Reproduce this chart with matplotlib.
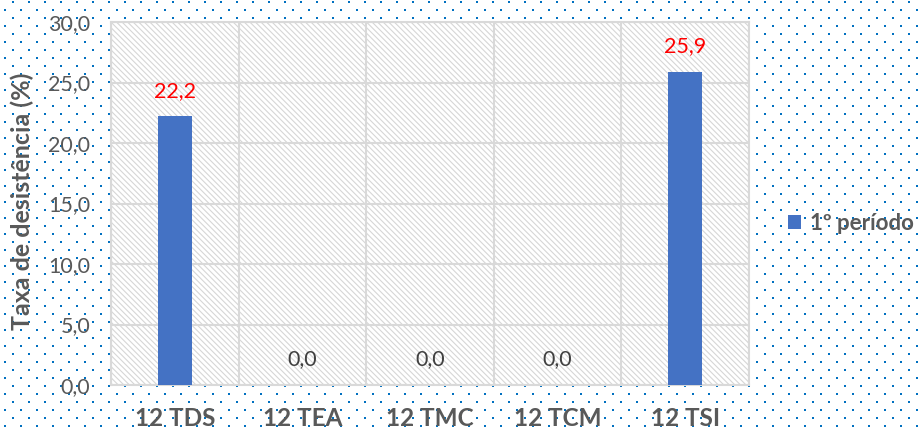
import matplotlib
matplotlib.use('Agg')
import matplotlib.pyplot as plt
from matplotlib.patches import Rectangle
import numpy as np

categories = ['12 TDS', '12 TEA', '12 TMC', '12 TCM', '12 TSI']
values = [22.2, 0.0, 0.0, 0.0, 25.9]
series_name = '1º período'
y_ticks = [0, 5, 10, 15, 20, 25, 30]

plt.rcParams['font.family'] = ['Lato', 'DejaVu Sans']
plt.rcParams['hatch.color'] = '#d6d6d6'
plt.rcParams['hatch.linewidth'] = 0.8

W, H = 918, 432
fig = plt.figure(figsize=(W / 100, H / 100), dpi=100)

# dotted page background
bg = fig.add_axes([0, 0, 1, 1], zorder=-1)
bg.set_xlim(0, W)
bg.set_ylim(H, 0)
bg.axis('off')
dx, dy = [], []
for k, yy in enumerate(range(1, H, 8)):
    start = 12 if k % 2 == 0 else 4
    for xx in range(start, W, 16):
        dx.append(xx + 0.5)
        dy.append(yy + 0.5)
bg.scatter(dx, dy, s=2.2, marker='s', color='#0070C0', linewidths=0)

ax = fig.add_axes([111 / W, 1 - 385 / H, 638 / W, 363 / H])
ax.set_facecolor('white')
ax.add_patch(Rectangle((0, 0), 1, 1, transform=ax.transAxes, facecolor='white',
                       edgecolor='#d6d6d6', hatch='\\' * 6, lw=0, zorder=0))

x = np.arange(len(categories))
ax.bar(x, values, width=0.27, color='#4472C4', zorder=3, label=series_name)

ax.set_xlim(-0.5, len(categories) - 0.5)
ax.set_ylim(0, 30)
ax.set_yticks(y_ticks)
ax.set_yticklabels([f'{v:.1f}'.replace('.', ',') for v in y_ticks])
ax.set_xticks(x)
ax.set_xticklabels(categories, fontweight='bold')
ax.set_xticks(np.arange(-0.5, len(categories)), minor=True)

ax.grid(True, axis='y', color='#d9d9d9', lw=1.5, zorder=1)
ax.grid(True, axis='x', which='minor', color='#d9d9d9', lw=1.5, zorder=1)
ax.set_axisbelow(True)

ax.tick_params(axis='y', length=0, pad=15, labelsize=15.5, labelcolor='#595959')
ax.tick_params(axis='x', length=0, pad=16, labelsize=17.5, labelcolor='#595959')
ax.tick_params(axis='x', which='minor', length=0)
for s in ax.spines.values():
    s.set_color('#d9d9d9')
    s.set_linewidth(1.5)

for i, v in enumerate(values):
    ax.annotate(f'{v:.1f}'.replace('.', ','), xy=(i, v), xytext=(0, 14),
                textcoords='offset points', ha='center', va='baseline',
                fontsize=15.5, color='red' if v > 0 else '#404040', zorder=4)

fig.text(22 / W, 1 - 201 / H, 'Taxa de desistência (%)', rotation=90,
         ha='center', va='center', fontsize=18, fontweight='bold', color='#595959')

ax.legend(loc='center left', bbox_to_anchor=(788 / W, 1 - 223 / H),
          bbox_transform=fig.transFigure, frameon=False, handlelength=0.6,
          handleheight=0.6, handletextpad=0.4, borderaxespad=0, borderpad=0,
          labelcolor='#595959', prop={'size': 16, 'weight': 'bold'})

plt.savefig('out.png', dpi=100)
plt.close()
